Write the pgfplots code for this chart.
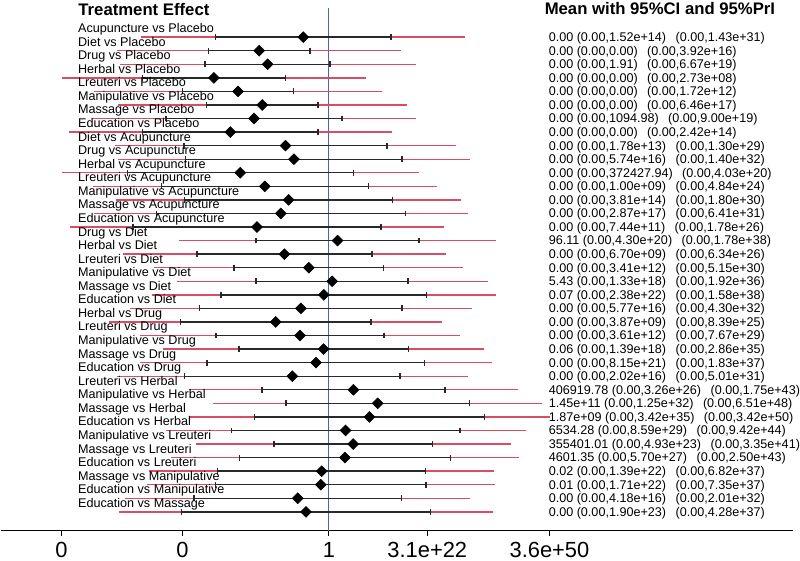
\documentclass[border=0pt]{standalone}
\usepackage{fontspec}
\setmainfont{Liberation Sans}
\usepackage{pgfplots}
\pgfplotsset{compat=1.18}
\usepackage{pgfplotstable}

\definecolor{prired}{RGB}{214,78,100}
\definecolor{refblue}{RGB}{80,98,172}
\definecolor{cigray}{RGB}{40,40,40}

% x is the natural log of the effect; r is the row (1 = top)
% pl/pu: 95% PrI, cl/cu: 95% CI, m: mean
\pgfplotstableread{
r pl cl m cu pu
1 -98.74 -59.66 -13.5 32.66 71.74
2 -111.61 -63.45 -36.7 -9.95 38.21
3 -110.15 -65.15 -32.25 0.647 45.65
4 -140.52 -98.2 -60.55 -22.9 19.42
5 -123.88 -77.2 -47.85 -18.5 28.18
6 -111.17 -64.4 -35.08 -5.76 41.01
7 -124.75 -85.8 -39.4 7.00 45.95
8 -136.92 -98.0 -51.9 -5.8 33.12
9 -112.74 -76.21 -22.85 30.51 67.04
10 -110.82 -75.39 -18.4 38.59 74.02
11 -140.75 -106.13 -46.65 12.83 47.45
12 -124.34 -88.22 -33.75 20.72 56.84
13 -112.07 -75.97 -21.2 33.57 69.67
14 -123.84 -90.8 -25.3 40.20 73.24
15 -136.18 -103.08 -37.87 27.34 60.44
16 -78.94 -38.38 4.565 47.51 88.07
17 -108.52 -69.43 -23.4 22.63 61.72
18 -91.82 -49.96 -10.55 28.86 70.72
19 -80.16 -38.35 1.692 41.73 83.54
20 -93.28 -56.84 -2.66 51.52 87.96
21 -104.64 -68.09 -14.75 38.59 75.14
22 -115.69 -78.08 -28.0 22.08 59.69
23 -99.21 -59.31 -15.2 28.91 68.81
24 -87.26 -47.40 -2.81 41.78 81.64
25 -99.40 -64.05 -6.8 50.45 85.80
26 -111.49 -76.04 -19.25 37.54 72.99
27 -73.74 -35.21 12.92 61.05 99.57
28 -61.00 -22.51 25.70 73.91 112.40
29 -73.66 -39.12 21.35 81.82 116.36
30 -85.98 -51.36 8.785 68.93 103.55
31 -70.06 -28.99 12.78 54.55 95.62
32 -83.06 -47.04 8.434 63.91 99.93
33 -94.72 -58.59 -3.8 50.99 87.12
34 -95.69 -59.70 -4.25 51.20 87.19
35 -107.18 -71.07 -16.4 38.27 74.38
36 -110.75 -77.70 -12.05 53.60 86.65
}\forest

\newcommand{\txt}{\fontsize{9.5}{11}\selectfont}
\newcommand{\row}[4]{%
  \node[anchor=base west,inner sep=0pt,font=\txt,yshift=3.45pt] at (axis cs:-132.16,#1) {#2};%
  \node[anchor=base west,inner sep=0pt,font=\txt,yshift=-3.3pt] at (axis cs:115.61,#1) {#3\hspace{0.75em}#4};}

\begin{document}
\begin{tikzpicture}
\begin{axis}[
    scale only axis,
    width=597pt, height=400pt,
    xmin=-172.86, xmax=244.11,
    ymin=-1.737, ymax=37.39,
    y dir=reverse,
    axis x line*=bottom,
    axis y line=none,
    xtick={-140.8,-77.1,0,51.79,116.11},
    xticklabels={0,0,1,3.1e+22,3.6e+50},
    tick align=outside,
    major tick length=3.8pt,
    x axis line style={line width=0.8pt},
    xtick style={line width=0.8pt,black},
    xticklabel style={font=\fontsize{16.5}{18}\selectfont,anchor=base,inner sep=0pt,yshift=-16.4pt},
    clip=false,
]
% page frame
\path (axis cs:-172.86,-1.737) rectangle (axis cs:246.2,39.57);

% line of no effect
\addplot[refblue,line width=0.8pt] coordinates {(0,-1.15) (0,37.39)};

% prediction intervals
\addplot[draw=none,mark=none,
    error bars/.cd, x dir=both, x explicit, error mark=none,
    error bar style={draw=prired,line width=1.05pt}]
  table[x=m,y=r,x error plus expr=\thisrow{pu}-\thisrow{m},x error minus expr=\thisrow{m}-\thisrow{pl}] {\forest};

% confidence intervals
\addplot[draw=none,mark=none,
    error bars/.cd, x dir=both, x explicit,
    error bar style={draw=cigray,line width=1.05pt},
    error mark options={rotate=90,draw=cigray,line width=1.1pt,mark size=2.2pt}]
  table[x=m,y=r,x error plus expr=\thisrow{cu}-\thisrow{m},x error minus expr=\thisrow{m}-\thisrow{cl}] {\forest};

% means
\addplot[only marks,mark=square*,mark size=2.9pt,
    mark options={rotate=45,draw=black,fill=black}]
  table[x=m,y=r] {\forest};

\node[anchor=base west,inner sep=0pt,font=\fontsize{12.6}{14}\selectfont\bfseries] at (axis cs:-132.0,-0.563) {Treatment Effect};
\node[anchor=base west,inner sep=0pt,font=\fontsize{12.6}{14}\selectfont\bfseries] at (axis cs:113.5,-0.687) {Mean with 95\%CI and 95\%PrI};

\row{1}{Acupuncture vs Placebo}{0.00 (0.00,1.52e+14)}{(0.00,1.43e+31)}
\row{2}{Diet vs Placebo}{0.00 (0.00,0.00)}{(0.00,3.92e+16)}
\row{3}{Drug vs Placebo}{0.00 (0.00,1.91)}{(0.00,6.67e+19)}
\row{4}{Herbal vs Placebo}{0.00 (0.00,0.00)}{(0.00,2.73e+08)}
\row{5}{Lreuteri vs Placebo}{0.00 (0.00,0.00)}{(0.00,1.72e+12)}
\row{6}{Manipulative vs Placebo}{0.00 (0.00,0.00)}{(0.00,6.46e+17)}
\row{7}{Massage vs Placebo}{0.00 (0.00,1094.98)}{(0.00,9.00e+19)}
\row{8}{Education vs Placebo}{0.00 (0.00,0.00)}{(0.00,2.42e+14)}
\row{9}{Diet vs Acupuncture}{0.00 (0.00,1.78e+13)}{(0.00,1.30e+29)}
\row{10}{Drug vs Acupuncture}{0.00 (0.00,5.74e+16)}{(0.00,1.40e+32)}
\row{11}{Herbal vs Acupuncture}{0.00 (0.00,372427.94)}{(0.00,4.03e+20)}
\row{12}{Lreuteri vs Acupuncture}{0.00 (0.00,1.00e+09)}{(0.00,4.84e+24)}
\row{13}{Manipulative vs Acupuncture}{0.00 (0.00,3.81e+14)}{(0.00,1.80e+30)}
\row{14}{Massage vs Acupuncture}{0.00 (0.00,2.87e+17)}{(0.00,6.41e+31)}
\row{15}{Education vs Acupuncture}{0.00 (0.00,7.44e+11)}{(0.00,1.78e+26)}
\row{16}{Drug vs Diet}{96.11 (0.00,4.30e+20)}{(0.00,1.78e+38)}
\row{17}{Herbal vs Diet}{0.00 (0.00,6.70e+09)}{(0.00,6.34e+26)}
\row{18}{Lreuteri vs Diet}{0.00 (0.00,3.41e+12)}{(0.00,5.15e+30)}
\row{19}{Manipulative vs Diet}{5.43 (0.00,1.33e+18)}{(0.00,1.92e+36)}
\row{20}{Massage vs Diet}{0.07 (0.00,2.38e+22)}{(0.00,1.58e+38)}
\row{21}{Education vs Diet}{0.00 (0.00,5.77e+16)}{(0.00,4.30e+32)}
\row{22}{Herbal vs Drug}{0.00 (0.00,3.87e+09)}{(0.00,8.39e+25)}
\row{23}{Lreuteri vs Drug}{0.00 (0.00,3.61e+12)}{(0.00,7.67e+29)}
\row{24}{Manipulative vs Drug}{0.06 (0.00,1.39e+18)}{(0.00,2.86e+35)}
\row{25}{Massage vs Drug}{0.00 (0.00,8.15e+21)}{(0.00,1.83e+37)}
\row{26}{Education vs Drug}{0.00 (0.00,2.02e+16)}{(0.00,5.01e+31)}
\row{27}{Lreuteri vs Herbal}{406919.78 (0.00,3.26e+26)}{(0.00,1.75e+43)}
\row{28}{Manipulative vs Herbal}{1.45e+11 (0.00,1.25e+32)}{(0.00,6.51e+48)}
\row{29}{Massage vs Herbal}{1.87e+09 (0.00,3.42e+35)}{(0.00,3.42e+50)}
\row{30}{Education vs Herbal}{6534.28 (0.00,8.59e+29)}{(0.00,9.42e+44)}
\row{31}{Manipulative vs Lreuteri}{355401.01 (0.00,4.93e+23)}{(0.00,3.35e+41)}
\row{32}{Massage vs Lreuteri}{4601.35 (0.00,5.70e+27)}{(0.00,2.50e+43)}
\row{33}{Education vs Lreuteri}{0.02 (0.00,1.39e+22)}{(0.00,6.82e+37)}
\row{34}{Massage vs Manipulative}{0.01 (0.00,1.71e+22)}{(0.00,7.35e+37)}
\row{35}{Education vs Manipulative}{0.00 (0.00,4.18e+16)}{(0.00,2.01e+32)}
\row{36}{Education vs Massage}{0.00 (0.00,1.90e+23)}{(0.00,4.28e+37)}
\end{axis}
\end{tikzpicture}
\end{document}
